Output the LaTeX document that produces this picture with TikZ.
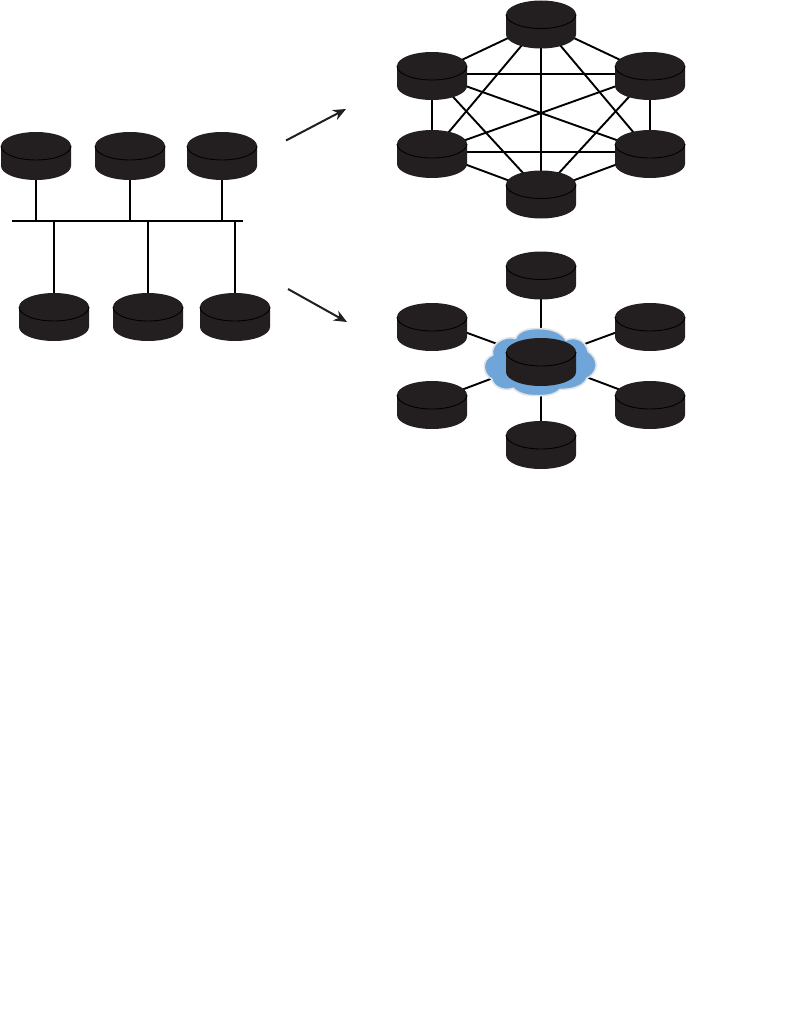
\documentclass[tikz,border=0pt]{standalone}
\usetikzlibrary{backgrounds,arrows.meta}
\definecolor{diskfill}{HTML}{231F20}
\definecolor{cloudfill}{HTML}{6FA5D8}
\definecolor{cloudedge}{HTML}{E2E5E8}
\tikzset{
  x=1pt,y=-1pt,
  diskbox/.style={minimum width=71pt,minimum height=48pt,inner sep=0pt,outer sep=0pt,
    path picture={
      \begin{scope}[y=1pt]
      \fill[diskfill] (path picture bounding box.west) ++(0.5,10) coordinate (dl)
        arc[start angle=180,end angle=0,x radius=35,y radius=14]
        -- ++(0,-20) arc[start angle=0,end angle=-180,x radius=35,y radius=14] -- cycle;
      \draw[black,line width=0.9pt] (dl) arc[start angle=180,end angle=360,x radius=35,y radius=14];
      \end{scope}
    }},
  link/.style={line width=1.9pt,black},
  flow/.style={line width=2pt,diskfill,-{Stealth[length=13pt,width=11pt]}},
}
\begin{document}
\begin{tikzpicture}
\useasboundingbox (0,0) rectangle (811,1011);
\foreach \n/\x/\y in {a1/36/156,a2/130/156,a3/222/156,b1/54/317,b2/148/317,b3/235/317,
   t/541/24.5,ul/432/76,ur/650/76,ll/432/154,lr/650/154,bo/541/194.5,
   st/541/275.5,sul/432/327,sur/650/327,sll/432/405,slr/650/405,sbo/541/445,sc/541/362}
  \node[diskbox] (\n) at (\x,\y) {};
\coordinate (busl) at (12,221);
\coordinate (busr) at (243,221);
\coordinate (fa) at (286,140.5);
\coordinate (fb) at (346,109);
\coordinate (ga) at (288,289);
\coordinate (gb) at (347,322);
\begin{scope}[on background layer]
\draw[link] (busl) -- (busr);
\foreach \n in {a1,a2,a3,b1,b2,b3} \draw[link] (\n.center) -- (\n.center |- busl);
\foreach \p/\q in {t/ul,t/ur,t/ll,t/lr,t/bo,ul/ur,ul/ll,ul/lr,ul/bo,ur/ll,ur/lr,ur/bo,ll/lr,ll/bo,lr/bo}
  \draw[link] ([yshift=2pt]\p.center) -- ([yshift=2pt]\q.center);
\draw[link] (st.center) -- (sc.center);
\draw[link] (sbo.center) -- (sc.center);
\draw[link] ([yshift=7pt]sul.center) -- ([yshift=2pt]sc.center);
\draw[link] ([yshift=7pt]sur.center) -- ([yshift=2pt]sc.center);
\draw[link] ([yshift=4pt]sll.center) -- ([yshift=2pt]sc.center);
\draw[link] ([yshift=4pt]slr.center) -- ([yshift=2pt]sc.center);
\begin{scope}[shift={(470,310)},scale=1/3]
\path[fill=cloudfill,draw=cloudedge,line width=1.6pt]
  (137,85) .. controls (145,62) and (175,55) .. (205,56)
  .. controls (245,55) and (275,68) .. (288,90)
  .. controls (310,80) and (345,85) .. (355,125)
  .. controls (385,145) and (390,185) .. (350,205)
  .. controls (345,225) and (310,240) .. (270,238)
  .. controls (255,255) and (225,258) .. (200,257)
  .. controls (170,258) and (145,250) .. (130,235)
  .. controls (100,245) and (70,230) .. (65,207)
  .. controls (40,195) and (30,150) .. (68,135)
  .. controls (60,105) and (100,75) .. (137,85) -- cycle;
\end{scope}
\end{scope}
\draw[flow] (fa) -- (fb);
\draw[flow] (ga) -- (gb);
\end{tikzpicture}
\end{document}
